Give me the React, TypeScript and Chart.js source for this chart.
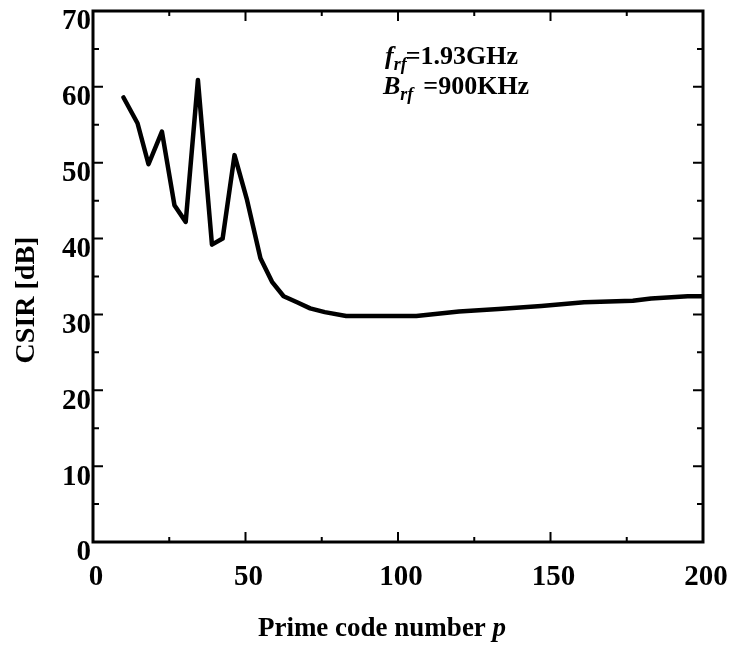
import React, { useEffect, useRef } from "react";
import { Chart, registerables } from "chart.js";

Chart.register(...registerables);

const primeCodeP = [10, 14.6, 18.2, 22.6, 26.7, 30.4, 34.4, 39, 42.5, 46.4, 50.5, 54.9, 58.7, 62.5, 66.9, 71.2, 76, 83, 95, 106, 120, 133, 147, 161, 177, 183, 195, 200];
const csirDb = [58.6, 55.2, 49.8, 54.1, 44.4, 42.2, 60.9, 39.2, 40.0, 51.0, 45.1, 37.4, 34.3, 32.4, 31.6, 30.8, 30.3, 29.8, 29.8, 29.8, 30.4, 30.7, 31.1, 31.6, 31.8, 32.1, 32.4, 32.4];

const xTickValues = [0, 50, 100, 150, 200];
const yTickValues = [0, 10, 20, 30, 40, 50, 60, 70];
const xMinorTicks = [25, 50, 75, 100, 125, 150, 175];
const yMinorTicks = [5, 10, 15, 20, 25, 30, 35, 40, 45, 50, 55, 60, 65];

const xTitle = "Prime code number ";
const xTitleItalic = "p";
const yTitle = "CSIR [dB]";
const annoFreq = "=1.93GHz";
const annoBand = "=900KHz";

const SERIF = "'Liberation Serif', 'Times New Roman', serif";

const framePlugin = {
  id: "frame",
  afterDraw(chart: any) {
    const ctx = chart.ctx as CanvasRenderingContext2D;
    const { left, right, top, bottom } = chart.chartArea;
    const xs = chart.scales.x;
    const ys = chart.scales.y;
    ctx.save();
    ctx.strokeStyle = "#000";
    ctx.lineWidth = 3;
    ctx.strokeRect(left, top, right - left, bottom - top);
    ctx.lineWidth = 2;
    ctx.beginPath();
    for (const v of xMinorTicks) {
      const px = xs.getPixelForValue(v);
      const len = v % 50 === 0 ? 10 : 5;
      ctx.moveTo(px, bottom);
      ctx.lineTo(px, bottom - len);
      ctx.moveTo(px, top);
      ctx.lineTo(px, top + len);
    }
    for (const v of yMinorTicks) {
      const py = ys.getPixelForValue(v);
      const len = v % 10 === 0 ? 10 : 6;
      ctx.moveTo(left, py);
      ctx.lineTo(left + len, py);
      ctx.moveTo(right, py);
      ctx.lineTo(right - len, py);
    }
    ctx.stroke();

    ctx.fillStyle = "#000";
    ctx.textBaseline = "alphabetic";
    ctx.textAlign = "left";
    // annotation line 1
    let x = 385;
    ctx.font = `italic bold 26px ${SERIF}`;
    ctx.fillText("f", x, 64);
    x += ctx.measureText("f").width;
    ctx.font = `italic bold 18px ${SERIF}`;
    ctx.fillText("rf", x, 70);
    x += ctx.measureText("rf").width;
    ctx.font = `bold 26px ${SERIF}`;
    ctx.fillText(annoFreq, x - 1, 64);
    // annotation line 2
    x = 383;
    ctx.font = `italic bold 26px ${SERIF}`;
    ctx.fillText("B", x, 94);
    x += ctx.measureText("B").width;
    ctx.font = `italic bold 18px ${SERIF}`;
    ctx.fillText("rf", x, 100);
    x += ctx.measureText("rf").width;
    ctx.font = `bold 26px ${SERIF}`;
    ctx.fillText(annoBand, x + 10, 94);

    // x title
    ctx.font = `bold 27px ${SERIF}`;
    const w1 = ctx.measureText(xTitle).width;
    ctx.font = `italic bold 27px ${SERIF}`;
    const w2 = ctx.measureText(xTitleItalic).width;
    const startX = 382 - (w1 + w2) / 2;
    ctx.font = `bold 27px ${SERIF}`;
    ctx.fillText(xTitle, startX, 636);
    ctx.font = `italic bold 27px ${SERIF}`;
    ctx.fillText(xTitleItalic, startX + w1, 636);

    // y title
    ctx.translate(27, 300);
    ctx.rotate(-Math.PI / 2);
    ctx.font = `bold 28px ${SERIF}`;
    ctx.textAlign = "center";
    ctx.textBaseline = "middle";
    ctx.fillText(yTitle, 0, 0);
    ctx.restore();
  },
};

export default function App() {
  const canvasRef = useRef<HTMLCanvasElement | null>(null);

  useEffect(() => {
    if (!canvasRef.current) return;
    const chart = new Chart(canvasRef.current, {
      type: "line",
      data: {
        datasets: [
          {
            data: primeCodeP.map((p, i) => ({ x: p, y: csirDb[i] })),
            borderColor: "#000",
            borderWidth: 4.5,
            pointRadius: 0,
            tension: 0,
            fill: false,
            borderJoinStyle: "round",
            borderCapStyle: "round",
          },
        ],
      },
      options: {
        animation: false,
        responsive: false,
        layout: { padding: { left: 0, right: 30, top: 11, bottom: 0 } },
        plugins: { legend: { display: false }, tooltip: { enabled: false } },
        scales: {
          x: {
            type: "linear",
            min: 0,
            max: 200,
            afterFit: (s: any) => {
              s.height = 103;
              s.paddingLeft = 0;
              s.paddingRight = 0;
            },
            afterBuildTicks: (s: any) => {
              s.ticks = xTickValues.map((v) => ({ value: v }));
            },
            grid: { display: false, drawTicks: false },
            border: { display: false },
            ticks: {
              padding: 18,
              labelOffset: 3,
              color: "#000",
              font: { family: SERIF, size: 29, weight: "bold" },
              maxRotation: 0,
            },
          },
          y: {
            type: "linear",
            min: 0,
            max: 70,
            afterFit: (s: any) => {
              s.width = 93;
              s.paddingTop = 0;
              s.paddingBottom = 0;
            },
            afterBuildTicks: (s: any) => {
              s.ticks = yTickValues.map((v) => ({ value: v }));
            },
            grid: { display: false, drawTicks: false },
            border: { display: false },
            ticks: {
              padding: 2,
              labelOffset: 11,
              color: "#000",
              font: { family: SERIF, size: 29, weight: "bold" },
            },
          },
        },
      },
      plugins: [framePlugin],
    });
    return () => chart.destroy();
  }, []);

  return (
    <div style={{ position: "absolute", left: 0, top: 0, width: 733, height: 645, background: "#fff" }}>
      <canvas ref={canvasRef} width={733} height={645} style={{ width: 733, height: 645 }} />
    </div>
  );
}
